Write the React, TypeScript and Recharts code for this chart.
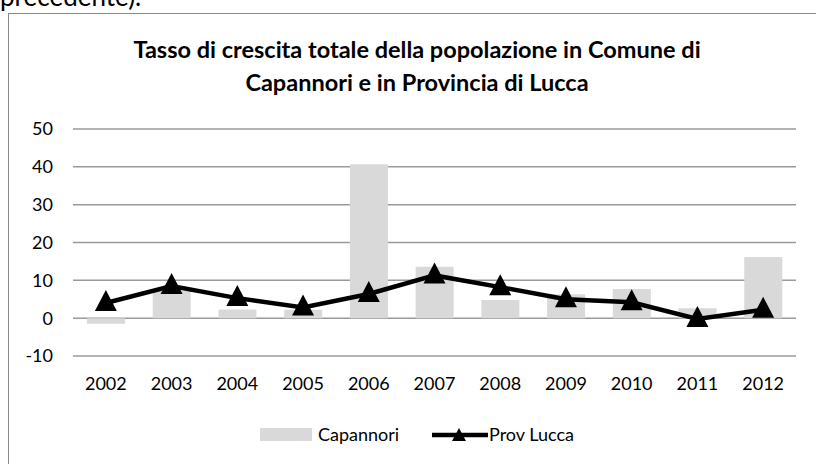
import { ComposedChart, Bar, Line, XAxis, YAxis, CartesianGrid } from 'recharts';

const years = ['2002', '2003', '2004', '2005', '2006', '2007', '2008', '2009', '2010', '2011', '2012'];
const capannori = [-1.5, 7.3, 2.3, 2.2, 40.7, 13.6, 4.8, 6.3, 7.7, 2.6, 16.2];
const provLucca = [4.0, 8.5, 5.3, 2.8, 6.4, 11.3, 8.2, 5.0, 4.2, -0.2, 2.2];
const yTicks = [-10, 0, 10, 20, 30, 40, 50];

const chartData = years.map((year, i) => ({
  year,
  capannori: capannori[i],
  provLucca: provLucca[i],
}));

const FONT = 'Lato, "Open Sans", sans-serif';

const Triangle = (props: any) => {
  const { cx, cy } = props;
  if (cx == null || cy == null) return null;
  return <path d={`M${cx},${cy - 13} L${cx + 11},${cy + 8} L${cx - 11},${cy + 8} Z`} fill="#000" />;
};

const App = () => {
  return (
      <div style={{ position: 'absolute', left: 0, top: 0, width: 816, height: 464, overflow: 'hidden', background: '#fff', fontFamily: FONT }}>
        <div style={{ position: 'absolute', left: 0, top: -19, fontSize: 26, lineHeight: '30px', color: '#000', whiteSpace: 'nowrap' }}>
          precedente).
        </div>
        <div style={{ position: 'absolute', left: 8, top: 13, width: 820, height: 470, border: '1.5px solid #8a8a8a', boxSizing: 'border-box' }} />
        <div style={{ position: 'absolute', left: 0, top: 33, width: 834, textAlign: 'center', fontWeight: 700, fontSize: 23.5, lineHeight: '32.7px', color: '#000' }}>
          Tasso di crescita totale della popolazione in Comune di<br />Capannori e in Provincia di Lucca
        </div>
        <div style={{ position: 'absolute', left: 0, top: 0 }}>
          <ComposedChart width={816} height={464} data={chartData} margin={{ top: 129, right: 20, left: 0, bottom: 78 }}>
            <CartesianGrid horizontal vertical={false} stroke="#9a9a9a" strokeWidth={1.5} />
            <XAxis
                dataKey="year"
                axisLine={false}
                tickLine={false}
                tickSize={0}
                tickMargin={21.5}
                height={30}
                interval={0}
                tick={{ fill: '#000', fontSize: 18, fontFamily: FONT }}
            />
            <YAxis
                domain={[-10, 50]}
                ticks={yTicks}
                axisLine={false}
                tickLine={false}
                tickSize={0}
                tickMargin={20}
                width={73}
                tick={{ fill: '#000', fontSize: 18, fontFamily: FONT }}
            />
            <Bar dataKey="capannori" fill="#d9d9d9" barSize={38} isAnimationActive={false} />
            <Line
                dataKey="provLucca"
                stroke="#000"
                strokeWidth={4.5}
                dot={<Triangle />}
                activeDot={false}
                isAnimationActive={false}
            />
          </ComposedChart>
        </div>
        <div style={{ position: 'absolute', left: 260, top: 428, width: 52, height: 13, background: '#d9d9d9' }} />
        <div style={{ position: 'absolute', left: 318, top: 424, fontSize: 18, lineHeight: '21.6px', color: '#000', whiteSpace: 'nowrap' }}>Capannori</div>
        <svg style={{ position: 'absolute', left: 432, top: 425 }} width={56} height={20}>
          <line x1={0} y1={10} x2={56} y2={10} stroke="#000" strokeWidth={4.5} />
          <path d="M27,3 L34,16 L20,16 Z" fill="#000" />
        </svg>
        <div style={{ position: 'absolute', left: 489, top: 424, fontSize: 18, lineHeight: '21.6px', color: '#000', whiteSpace: 'nowrap' }}>Prov Lucca</div>
      </div>
  );
};

export default App;
